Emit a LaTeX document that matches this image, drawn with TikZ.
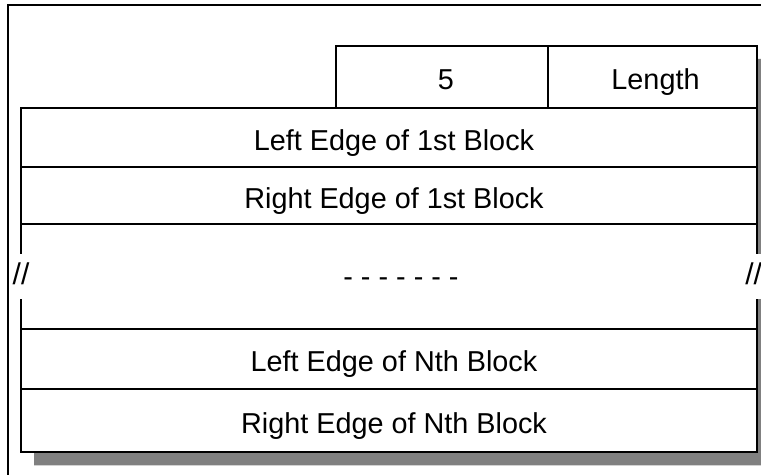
\documentclass[tikz,border=0pt]{standalone}
\usepackage{fontspec}
\setmainfont{Liberation Sans}
\begin{document}
\begin{tikzpicture}[x=0.5pt,y=-0.5pt,
  txt/.style={font=\fontsize{14.4}{16}\selectfont, text height=13pt, text depth=0pt},
  cell/.style={txt, draw, line width=1pt, fill=white, inner sep=0pt, outer sep=0pt},
  rowcell/.style={cell, minimum width=368pt, execute at begin node={\hspace*{5pt}}},
  breakmark/.style={font=\fontsize{15}{16}\selectfont, fill=white, inner xsep=2pt, inner ysep=0pt,
    minimum height=22.5pt, text height=8pt, text depth=0pt},
  shadowcol/.style={fill=black!50}]
\useasboundingbox (0,0) rectangle (761,475);
\clip (0,0) rectangle (761,475);
% outer frame
\draw[line width=0.6pt] (8,480) -- (8,5) -- (770,5);
% shadow
\fill[shadowcol] (349,59) -- (770,59) -- (770,465.5) -- (34,465.5) -- (34,121) -- (349,121) -- cycle;
% gap section (drawn first so that the row borders lie on top)
\node[txt, fill=white, inner sep=0pt, outer sep=0pt, minimum width=368pt, minimum height=52.5pt,
  text height=10.5pt, execute at begin node={\hspace*{12pt}}] (gap) at (389,276.5) {- - - - - - -};
\draw[line width=1pt] (gap.north west) -- (gap.south west);
\draw[line width=1pt] (gap.north east) -- (gap.south east);
% header cells
\node[cell, minimum width=106pt, minimum height=31pt, execute at begin node={\hspace*{4pt}}] (five) at (442,77) {5};
\node[cell, minimum width=104.5pt, minimum height=31pt, execute at begin node={\hspace*{3pt}}] (len) at (652.5,77) {Length};
% rows
\node[rowcell, minimum height=29.75pt] (lfirst) at (389,137.75) {Left Edge of 1st Block};
\node[rowcell, minimum height=28.25pt] (rfirst) at (389,195.75) {Right Edge of 1st Block};
\node[rowcell, minimum height=30pt] (lnth) at (389,359) {Left Edge of Nth Block};
\node[rowcell, minimum height=31.75pt] (rnth) at (389,420.75) {Right Edge of Nth Block};
% break marks
\node[breakmark] (brkl) at (gap.west) {//};
\node[breakmark, anchor=west] (brkr) at ([xshift=-8pt]gap.east) {//};
\end{tikzpicture}
\end{document}
